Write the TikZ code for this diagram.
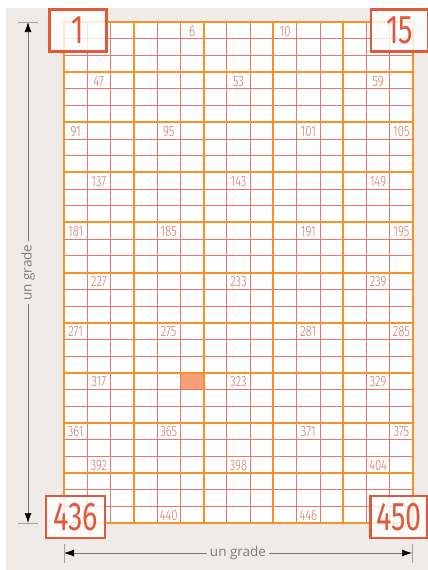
\documentclass[tikz,border=0pt]{standalone}
\usepackage{fontspec}
\setmainfont{Open Sans}
\newfontfamily\condfont[FakeStretch=0.75]{Fira Sans Light}
\newfontfamily\bigcondfont[FakeStretch=0.72]{Fira Sans}
\usetikzlibrary{arrows.meta}
\definecolor{GrdBg}{RGB}{239,235,232}
\definecolor{GrdThick}{RGB}{247,145,40}
\definecolor{GrdThin}{RGB}{236,118,104}
\definecolor{GrdLabel}{RGB}{212,116,98}
\definecolor{GrdBox}{RGB}{226,88,58}
\definecolor{GrdMark}{RGB}{243,160,120}
\definecolor{GrdDim}{RGB}{120,120,120}
\definecolor{GrdDimText}{RGB}{125,125,125}
\tikzset{
  grd/thin/.style={draw=GrdThin, line width=0.8pt},
  grd/thick/.style={draw=GrdThick, line width=2pt},
  grd/label/.style={
    font=\condfont\fontsize{15}{15}\selectfont,
    text=GrdLabel,
    inner sep=0pt
  },
  grd/corner/.style={
    draw=GrdBox,
    line width=2.2pt,
    fill=white,
    fill opacity=0.8,
    text opacity=1,
    text=GrdBox,
    minimum width=57pt,
    minimum height=42pt,
    inner sep=0pt,
    font=\bigcondfont\fontsize{40}{40}\selectfont
  },
  grd/dim/.style={-{Latex[length=10pt,width=7pt,color=black]}, draw=GrdDim, line width=0.7pt},
  grd/tick/.style={draw=GrdDim!70, line width=0.6pt},
  grd/dimtext/.style={font=\fontsize{13.5}{13.5}\selectfont, text=GrdDimText, inner sep=3pt}
}
\begin{document}
\begin{tikzpicture}[x=1pt,y=-1pt]
  \useasboundingbox (0,0) rectangle (428,570);
  \fill[GrdBg] (6,8) rectangle (428,570);
  % sheet of 15 x 30 cells
  \begin{scope}[shift={(64,22)},x=23.267pt,y=-16.7pt]
    \fill[white] (0,0) rectangle (15,30);
    \fill[GrdMark] (5,21) rectangle (6,22);
    \foreach \i in {0,...,15} \draw[grd/thin] (\i,0) -- (\i,30);
    \foreach \j in {0,...,30} \draw[grd/thin] (0,\j) -- (15,\j);
    \foreach \i in {0,3,...,15} \draw[grd/thick] (\i,0) -- (\i,30);
    \foreach \j in {0,3,...,30} \draw[grd/thick] (0,\j) -- (15,\j);
    \foreach \num in {6,10,47,53,59,91,95,101,105,137,143,149,181,185,191,195,
      227,233,239,271,275,281,285,317,323,329,361,365,371,375,392,398,404,440,446}
    {
      \pgfmathtruncatemacro\col{mod(\num-1,15)}
      \pgfmathtruncatemacro\row{div(\num-1,15)}
      \node[grd/label] (n\num) at (\col+0.5,\row+0.55) {\num};
    }
  \end{scope}
  % corner numbers
  \node[grd/corner] (c1) at (78,30.5) {1};
  \node[grd/corner] (c15) at (399.5,30.5) {15};
  \node[grd/corner, minimum width=59pt] (c436) at (75.5,517) {436};
  \node[grd/corner] (c450) at (399,517) {450};
  % dimensions
  \coordinate (vtop) at (28,22);
  \coordinate (vbot) at (28,523);
  \node[grd/dimtext, rotate=90] (vtext) at (28,272.5) {un grade};
  \draw[grd/dim] (vtext) -- (vtop);
  \draw[grd/dim] (vtext) -- (vbot);
  \draw[grd/tick] ([xshift=-10pt]vtop) -- ([xshift=10pt]vtop);
  \draw[grd/tick] ([xshift=-10pt]vbot) -- ([xshift=10pt]vbot);
  \coordinate (hleft) at (64,553);
  \coordinate (hright) at (412,553);
  \node[grd/dimtext] (htext) at (238,553) {un grade};
  \draw[grd/dim] (htext) -- (hleft);
  \draw[grd/dim] (htext) -- (hright);
  \draw[grd/tick] ([yshift=-10pt]hleft) -- ([yshift=9pt]hleft);
  \draw[grd/tick] ([yshift=-10pt]hright) -- ([yshift=9pt]hright);
\end{tikzpicture}
\end{document}
